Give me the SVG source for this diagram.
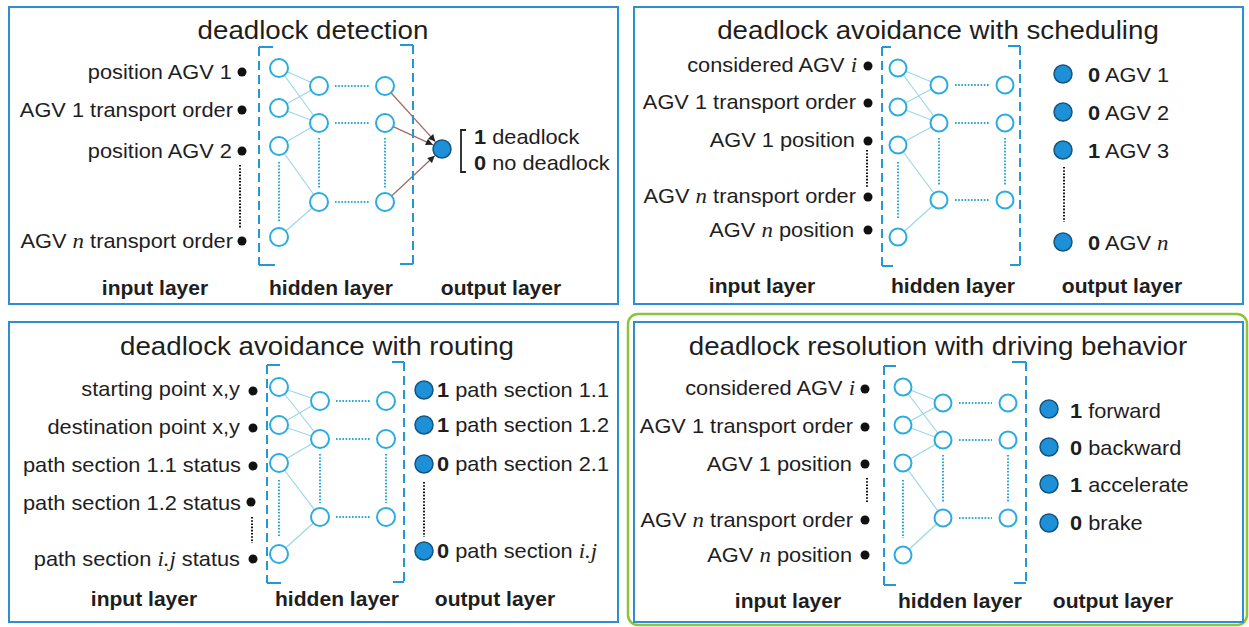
<svg xmlns="http://www.w3.org/2000/svg" width="1249" height="627" viewBox="0 0 1249 627">
  <defs>
    <style>
      .panel{fill:#fff;stroke:#2f8ed2;stroke-width:2}
      .hl{fill:none;stroke:#8cc43c;stroke-width:2.5}
      .tx{font-family:"Liberation Sans",Arial,sans-serif;fill:#1e1e1e}
      .ti{font-size:26px}
      .lb{font-size:20px}
      .ly{font-size:19.5px;font-weight:bold}
      .b{font-weight:bold}
      .mi{font-family:"Liberation Serif","Times New Roman",serif;font-style:italic;font-size:21px}
      .in{fill:#111}
      .hn{fill:#fff;stroke:#2aace0;stroke-width:2}
      .on{fill:#1e90d8;stroke:#14557f;stroke-width:1.5}
      .box{fill:none;stroke:#2299d6;stroke-width:2}
      .dash{stroke-dasharray:9 5}
      .dk{fill:none;stroke:#111;stroke-width:2;stroke-dasharray:1.6 1.6}
      .dc{fill:none;stroke:#2aa8d4;stroke-width:2;stroke-dasharray:1.6 1.6}
      .w{stroke:#9dd6ec;stroke-width:1.2}
      .arr{stroke:#a36a6a;stroke-width:1.3;marker-end:url(#ah)}
      .br{fill:none;stroke:#222;stroke-width:1.8}
    </style>
    <marker id="ah" viewBox="0 0 10 10" refX="10" refY="5" markerWidth="8" markerHeight="7" markerUnits="userSpaceOnUse" orient="auto">
      <path d="M0,0 L10,5 L0,10 z" fill="#222"/>
    </marker>
  </defs>

  <rect width="1249" height="627" fill="#fff"/>

  <!-- ============ panel 1: deadlock detection ============ -->
  <g id="panel-detection">
    <rect class="panel" x="9" y="7" width="609" height="297"/>
    <text class="tx ti" text-anchor="middle" transform="translate(313,39) scale(1.065,1)">deadlock detection</text>

    <g id="p1-connectors">
      <line class="w" x1="279" y1="68" x2="319" y2="86"/>
      <line class="w" x1="279" y1="68" x2="319" y2="123"/>
      <line class="w" x1="279" y1="108" x2="319" y2="86"/>
      <line class="w" x1="279" y1="108" x2="319" y2="123"/>
      <line class="w" x1="279" y1="146" x2="319" y2="123"/>
      <line class="w" x1="279" y1="146" x2="319" y2="202"/>
      <line class="w" x1="279" y1="237" x2="319" y2="202"/>
      <line class="dc" x1="335" y1="86" x2="369" y2="86"/>
      <line class="dc" x1="335" y1="123" x2="369" y2="123"/>
      <line class="dc" x1="335" y1="202" x2="369" y2="202"/>
      <line class="dc" x1="279" y1="162" x2="279" y2="222"/>
      <line class="dc" x1="319" y1="138" x2="319" y2="188"/>
      <line class="dc" x1="385" y1="138" x2="385" y2="188"/>
      <line class="dk" x1="240" y1="165" x2="240" y2="228"/>
      <line class="arr" x1="391" y1="92.7" x2="435.3" y2="141.6"/>
      <line class="arr" x1="393.2" y1="126.7" x2="432.9" y2="144.8"/>
      <line class="arr" x1="391.6" y1="195.9" x2="434.7" y2="155.8"/>
    </g>

    <g id="p1-hidden-box">
      <path class="box" d="M273,47 H259"/>
      <line class="box dash" x1="259" y1="47" x2="259" y2="265"/>
      <path class="box" d="M259,265 H275"/>
      <path class="box" d="M400,45 H413"/>
      <line class="box dash" x1="413" y1="45" x2="413" y2="264"/>
      <path class="box" d="M400,264 H413"/>
    </g>

    <g id="p1-in1"><circle class="in" cx="242" cy="72" r="4.5"/><text class="tx lb" text-anchor="end" transform="translate(232,79) scale(1.09,1)">position AGV 1</text></g>
    <g id="p1-in2"><circle class="in" cx="242" cy="110" r="4.5"/><text class="tx lb" text-anchor="end" transform="translate(233,117) scale(1.09,1)">AGV 1 transport order</text></g>
    <g id="p1-in3"><circle class="in" cx="242" cy="151" r="4.5"/><text class="tx lb" text-anchor="end" transform="translate(232,158) scale(1.09,1)">position AGV 2</text></g>
    <g id="p1-in4"><circle class="in" cx="242" cy="241" r="4.5"/><text class="tx lb" text-anchor="end" transform="translate(233,248) scale(1.09,1)">AGV <tspan class="mi">n</tspan> transport order</text></g>

    <g id="p1-h1a"><circle class="hn" cx="279" cy="68" r="9"/></g>
    <g id="p1-h1b"><circle class="hn" cx="279" cy="108" r="9"/></g>
    <g id="p1-h1c"><circle class="hn" cx="279" cy="146" r="9"/></g>
    <g id="p1-h1d"><circle class="hn" cx="279" cy="237" r="9"/></g>
    <g id="p1-h2a"><circle class="hn" cx="319" cy="86" r="9"/></g>
    <g id="p1-h2b"><circle class="hn" cx="319" cy="123" r="9"/></g>
    <g id="p1-h2c"><circle class="hn" cx="319" cy="202" r="9"/></g>
    <g id="p1-h3a"><circle class="hn" cx="385" cy="86" r="9"/></g>
    <g id="p1-h3b"><circle class="hn" cx="385" cy="123" r="9"/></g>
    <g id="p1-h3c"><circle class="hn" cx="385" cy="202" r="9"/></g>

    <g id="p1-out">
      <circle class="on" cx="442" cy="149" r="9"/>
      <path class="br" d="M466,130 H461 V172 H466"/>
      <text class="tx lb" transform="translate(474,144) scale(1.09,1)"><tspan class="b">1</tspan> deadlock</text>
      <text class="tx lb" transform="translate(474,170) scale(1.09,1)"><tspan class="b">0</tspan> no deadlock</text>
    </g>

    <text class="tx ly" text-anchor="middle" transform="translate(155,295) scale(1.08,1)">input layer</text>
    <text class="tx ly" text-anchor="middle" transform="translate(331,295) scale(1.08,1)">hidden layer</text>
    <text class="tx ly" text-anchor="middle" transform="translate(501,295) scale(1.08,1)">output layer</text>
  </g>

  <!-- ============ panel 2: avoidance with scheduling ============ -->
  <g id="panel-scheduling">
    <rect class="panel" x="634" y="7" width="609" height="297"/>
    <text class="tx ti" text-anchor="middle" transform="translate(938,39) scale(1.065,1)">deadlock avoidance with scheduling</text>

    <g id="p2-connectors">
      <line class="w" x1="898" y1="68" x2="939" y2="85"/>
      <line class="w" x1="898" y1="68" x2="939" y2="123"/>
      <line class="w" x1="898" y1="107" x2="939" y2="85"/>
      <line class="w" x1="898" y1="107" x2="939" y2="123"/>
      <line class="w" x1="898" y1="145" x2="939" y2="123"/>
      <line class="w" x1="898" y1="145" x2="939" y2="200"/>
      <line class="w" x1="898" y1="237" x2="939" y2="200"/>
      <line class="dc" x1="955" y1="85" x2="989" y2="85"/>
      <line class="dc" x1="955" y1="123" x2="989" y2="123"/>
      <line class="dc" x1="955" y1="200" x2="989" y2="200"/>
      <line class="dc" x1="898" y1="162" x2="898" y2="219"/>
      <line class="dc" x1="939" y1="138" x2="939" y2="186"/>
      <line class="dc" x1="1005" y1="138" x2="1005" y2="186"/>
      <line class="dk" x1="867" y1="150" x2="867" y2="187"/>
      <line class="dk" x1="1064" y1="167" x2="1064" y2="222"/>
    </g>

    <g id="p2-hidden-box">
      <path class="box" d="M891,47 H882"/>
      <line class="box dash" x1="882" y1="47" x2="882" y2="266"/>
      <path class="box" d="M882,266 H893"/>
      <path class="box" d="M1008,46 H1020"/>
      <line class="box dash" x1="1020" y1="46" x2="1020" y2="265"/>
      <path class="box" d="M1010,265 H1020"/>
    </g>

    <g id="p2-in1"><circle class="in" cx="868" cy="66" r="4.5"/><text class="tx lb" text-anchor="end" transform="translate(857,72) scale(1.09,1)">considered AGV <tspan class="mi">i</tspan></text></g>
    <g id="p2-in2"><circle class="in" cx="868" cy="103" r="4.5"/><text class="tx lb" text-anchor="end" transform="translate(856,109) scale(1.09,1)">AGV 1 transport order</text></g>
    <g id="p2-in3"><circle class="in" cx="868" cy="141" r="4.5"/><text class="tx lb" text-anchor="end" transform="translate(855,147) scale(1.09,1)">AGV 1 position</text></g>
    <g id="p2-in4"><circle class="in" cx="868" cy="197" r="4.5"/><text class="tx lb" text-anchor="end" transform="translate(856,203) scale(1.09,1)">AGV <tspan class="mi">n</tspan> transport order</text></g>
    <g id="p2-in5"><circle class="in" cx="868" cy="230" r="4.5"/><text class="tx lb" text-anchor="end" transform="translate(854,237) scale(1.09,1)">AGV <tspan class="mi">n</tspan> position</text></g>

    <g id="p2-h1a"><circle class="hn" cx="898" cy="68" r="8.5"/></g>
    <g id="p2-h1b"><circle class="hn" cx="898" cy="107" r="8.5"/></g>
    <g id="p2-h1c"><circle class="hn" cx="898" cy="145" r="8.5"/></g>
    <g id="p2-h1d"><circle class="hn" cx="898" cy="237" r="8.5"/></g>
    <g id="p2-h2a"><circle class="hn" cx="939" cy="85" r="8.5"/></g>
    <g id="p2-h2b"><circle class="hn" cx="939" cy="123" r="8.5"/></g>
    <g id="p2-h2c"><circle class="hn" cx="939" cy="200" r="8.5"/></g>
    <g id="p2-h3a"><circle class="hn" cx="1005" cy="85" r="8.5"/></g>
    <g id="p2-h3b"><circle class="hn" cx="1005" cy="123" r="8.5"/></g>
    <g id="p2-h3c"><circle class="hn" cx="1005" cy="200" r="8.5"/></g>

    <g id="p2-out1"><circle class="on" cx="1063" cy="74" r="9"/><text class="tx lb" transform="translate(1088,82) scale(1.09,1)"><tspan class="b">0</tspan> AGV 1</text></g>
    <g id="p2-out2"><circle class="on" cx="1063" cy="112" r="9"/><text class="tx lb" transform="translate(1088,120) scale(1.09,1)"><tspan class="b">0</tspan> AGV 2</text></g>
    <g id="p2-out3"><circle class="on" cx="1063" cy="150" r="9"/><text class="tx lb" transform="translate(1088,158) scale(1.09,1)"><tspan class="b">1</tspan> AGV 3</text></g>
    <g id="p2-out4"><circle class="on" cx="1063" cy="242" r="9"/><text class="tx lb" transform="translate(1088,250) scale(1.09,1)"><tspan class="b">0</tspan> AGV <tspan class="mi">n</tspan></text></g>

    <text class="tx ly" text-anchor="middle" transform="translate(762,293) scale(1.08,1)">input layer</text>
    <text class="tx ly" text-anchor="middle" transform="translate(953,293) scale(1.08,1)">hidden layer</text>
    <text class="tx ly" text-anchor="middle" transform="translate(1122,293) scale(1.08,1)">output layer</text>
  </g>

  <!-- ============ panel 3: avoidance with routing ============ -->
  <g id="panel-routing">
    <rect class="panel" x="9" y="322" width="609" height="300"/>
    <text class="tx ti" text-anchor="middle" transform="translate(317,355) scale(1.065,1)">deadlock avoidance with routing</text>

    <g id="p3-connectors">
      <line class="w" x1="279" y1="387" x2="320" y2="401"/>
      <line class="w" x1="279" y1="387" x2="320" y2="439"/>
      <line class="w" x1="279" y1="425" x2="320" y2="401"/>
      <line class="w" x1="279" y1="425" x2="320" y2="439"/>
      <line class="w" x1="279" y1="463" x2="320" y2="439"/>
      <line class="w" x1="279" y1="463" x2="320" y2="517"/>
      <line class="w" x1="279" y1="554" x2="320" y2="517"/>
      <line class="dc" x1="336" y1="401" x2="370" y2="401"/>
      <line class="dc" x1="336" y1="439" x2="370" y2="439"/>
      <line class="dc" x1="336" y1="517" x2="370" y2="517"/>
      <line class="dc" x1="279" y1="480" x2="279" y2="537"/>
      <line class="dc" x1="320" y1="454" x2="320" y2="503"/>
      <line class="dc" x1="386" y1="454" x2="386" y2="503"/>
      <line class="dk" x1="252" y1="517" x2="252" y2="543"/>
      <line class="dk" x1="424" y1="482" x2="424" y2="537"/>
    </g>

    <g id="p3-hidden-box">
      <path class="box" d="M280,365 H267"/>
      <line class="box dash" x1="267" y1="365" x2="267" y2="583"/>
      <path class="box" d="M267,583 H281"/>
      <path class="box" d="M392,362 H404"/>
      <line class="box dash" x1="404" y1="362" x2="404" y2="582"/>
      <path class="box" d="M393,582 H404"/>
    </g>

    <g id="p3-in1"><circle class="in" cx="253" cy="391" r="4.5"/><text class="tx lb" text-anchor="end" transform="translate(240,396) scale(1.09,1)">starting point x,y</text></g>
    <g id="p3-in2"><circle class="in" cx="253" cy="428" r="4.5"/><text class="tx lb" text-anchor="end" transform="translate(240,434) scale(1.09,1)">destination point x,y</text></g>
    <g id="p3-in3"><circle class="in" cx="253" cy="466" r="4.5"/><text class="tx lb" text-anchor="end" transform="translate(241,472) scale(1.09,1)">path section 1.1 status</text></g>
    <g id="p3-in4"><circle class="in" cx="251" cy="502" r="4.5"/><text class="tx lb" text-anchor="end" transform="translate(241,510) scale(1.09,1)">path section 1.2 status</text></g>
    <g id="p3-in5"><circle class="in" cx="253" cy="559" r="4.5"/><text class="tx lb" text-anchor="end" transform="translate(240,566) scale(1.09,1)">path section <tspan class="mi">i.j</tspan> status</text></g>

    <g id="p3-h1a"><circle class="hn" cx="279" cy="387" r="9"/></g>
    <g id="p3-h1b"><circle class="hn" cx="279" cy="425" r="9"/></g>
    <g id="p3-h1c"><circle class="hn" cx="279" cy="463" r="9"/></g>
    <g id="p3-h1d"><circle class="hn" cx="279" cy="554" r="9"/></g>
    <g id="p3-h2a"><circle class="hn" cx="320" cy="401" r="9"/></g>
    <g id="p3-h2b"><circle class="hn" cx="320" cy="439" r="9"/></g>
    <g id="p3-h2c"><circle class="hn" cx="320" cy="517" r="9"/></g>
    <g id="p3-h3a"><circle class="hn" cx="386" cy="401" r="9"/></g>
    <g id="p3-h3b"><circle class="hn" cx="386" cy="439" r="9"/></g>
    <g id="p3-h3c"><circle class="hn" cx="386" cy="517" r="9"/></g>

    <g id="p3-out1"><circle class="on" cx="424" cy="390" r="9"/><text class="tx lb" transform="translate(437,397) scale(1.09,1)"><tspan class="b">1</tspan> path section 1.1</text></g>
    <g id="p3-out2"><circle class="on" cx="424" cy="425" r="9"/><text class="tx lb" transform="translate(437,432) scale(1.09,1)"><tspan class="b">1</tspan> path section 1.2</text></g>
    <g id="p3-out3"><circle class="on" cx="424" cy="464" r="9"/><text class="tx lb" transform="translate(437,471) scale(1.09,1)"><tspan class="b">0</tspan> path section 2.1</text></g>
    <g id="p3-out4"><circle class="on" cx="424" cy="551" r="9"/><text class="tx lb" transform="translate(437,558) scale(1.09,1)"><tspan class="b">0</tspan> path section <tspan class="mi">i.j</tspan></text></g>

    <text class="tx ly" text-anchor="middle" transform="translate(144,606) scale(1.08,1)">input layer</text>
    <text class="tx ly" text-anchor="middle" transform="translate(337,606) scale(1.08,1)">hidden layer</text>
    <text class="tx ly" text-anchor="middle" transform="translate(495,606) scale(1.08,1)">output layer</text>
  </g>

  <!-- ============ panel 4: resolution with driving behavior ============ -->
  <g id="panel-resolution">
    <rect class="hl" x="628" y="314" width="619" height="311" rx="10"/>
    <rect class="panel" x="634" y="322" width="609" height="300"/>
    <text class="tx ti" text-anchor="middle" transform="translate(938,355) scale(1.065,1)">deadlock resolution with driving behavior</text>

    <g id="p4-connectors">
      <line class="w" x1="903" y1="387" x2="943" y2="403"/>
      <line class="w" x1="903" y1="387" x2="943" y2="440"/>
      <line class="w" x1="903" y1="425" x2="943" y2="403"/>
      <line class="w" x1="903" y1="425" x2="943" y2="440"/>
      <line class="w" x1="903" y1="463" x2="943" y2="440"/>
      <line class="w" x1="903" y1="463" x2="943" y2="518"/>
      <line class="w" x1="903" y1="555" x2="943" y2="518"/>
      <line class="dc" x1="959" y1="403" x2="992" y2="403"/>
      <line class="dc" x1="959" y1="440" x2="992" y2="440"/>
      <line class="dc" x1="959" y1="518" x2="992" y2="518"/>
      <line class="dc" x1="903" y1="480" x2="903" y2="538"/>
      <line class="dc" x1="943" y1="455" x2="943" y2="503"/>
      <line class="dc" x1="1008" y1="455" x2="1008" y2="503"/>
      <line class="dk" x1="867" y1="478" x2="867" y2="503"/>
    </g>

    <g id="p4-hidden-box">
      <path class="box" d="M896,366 H884"/>
      <line class="box dash" x1="884" y1="366" x2="884" y2="585"/>
      <path class="box" d="M884,585 H896"/>
      <path class="box" d="M1012,362 H1026"/>
      <line class="box dash" x1="1026" y1="362" x2="1026" y2="583"/>
      <path class="box" d="M1014,583 H1026"/>
    </g>

    <g id="p4-in1"><circle class="in" cx="865" cy="389" r="4.5"/><text class="tx lb" text-anchor="end" transform="translate(855,395) scale(1.09,1)">considered AGV <tspan class="mi">i</tspan></text></g>
    <g id="p4-in2"><circle class="in" cx="865" cy="427" r="4.5"/><text class="tx lb" text-anchor="end" transform="translate(853,433) scale(1.09,1)">AGV 1 transport order</text></g>
    <g id="p4-in3"><circle class="in" cx="865" cy="464" r="4.5"/><text class="tx lb" text-anchor="end" transform="translate(852,471) scale(1.09,1)">AGV 1 position</text></g>
    <g id="p4-in4"><circle class="in" cx="865" cy="520" r="4.5"/><text class="tx lb" text-anchor="end" transform="translate(853,527) scale(1.09,1)">AGV <tspan class="mi">n</tspan> transport order</text></g>
    <g id="p4-in5"><circle class="in" cx="865" cy="555" r="4.5"/><text class="tx lb" text-anchor="end" transform="translate(852,562) scale(1.09,1)">AGV <tspan class="mi">n</tspan> position</text></g>

    <g id="p4-h1a"><circle class="hn" cx="903" cy="387" r="8.5"/></g>
    <g id="p4-h1b"><circle class="hn" cx="903" cy="425" r="8.5"/></g>
    <g id="p4-h1c"><circle class="hn" cx="903" cy="463" r="8.5"/></g>
    <g id="p4-h1d"><circle class="hn" cx="903" cy="555" r="8.5"/></g>
    <g id="p4-h2a"><circle class="hn" cx="943" cy="403" r="8.5"/></g>
    <g id="p4-h2b"><circle class="hn" cx="943" cy="440" r="8.5"/></g>
    <g id="p4-h2c"><circle class="hn" cx="943" cy="518" r="8.5"/></g>
    <g id="p4-h3a"><circle class="hn" cx="1008" cy="403" r="8.5"/></g>
    <g id="p4-h3b"><circle class="hn" cx="1008" cy="440" r="8.5"/></g>
    <g id="p4-h3c"><circle class="hn" cx="1008" cy="518" r="8.5"/></g>

    <g id="p4-out1"><circle class="on" cx="1049" cy="409" r="9"/><text class="tx lb" transform="translate(1070,418) scale(1.09,1)"><tspan class="b">1</tspan> forward</text></g>
    <g id="p4-out2"><circle class="on" cx="1049" cy="447" r="9"/><text class="tx lb" transform="translate(1070,455) scale(1.09,1)"><tspan class="b">0</tspan> backward</text></g>
    <g id="p4-out3"><circle class="on" cx="1049" cy="484" r="9"/><text class="tx lb" transform="translate(1070,492) scale(1.09,1)"><tspan class="b">1</tspan> accelerate</text></g>
    <g id="p4-out4"><circle class="on" cx="1049" cy="523" r="9"/><text class="tx lb" transform="translate(1070,530) scale(1.09,1)"><tspan class="b">0</tspan> brake</text></g>

    <text class="tx ly" text-anchor="middle" transform="translate(788,608) scale(1.08,1)">input layer</text>
    <text class="tx ly" text-anchor="middle" transform="translate(960,608) scale(1.08,1)">hidden layer</text>
    <text class="tx ly" text-anchor="middle" transform="translate(1113,608) scale(1.08,1)">output layer</text>
  </g>
</svg>
